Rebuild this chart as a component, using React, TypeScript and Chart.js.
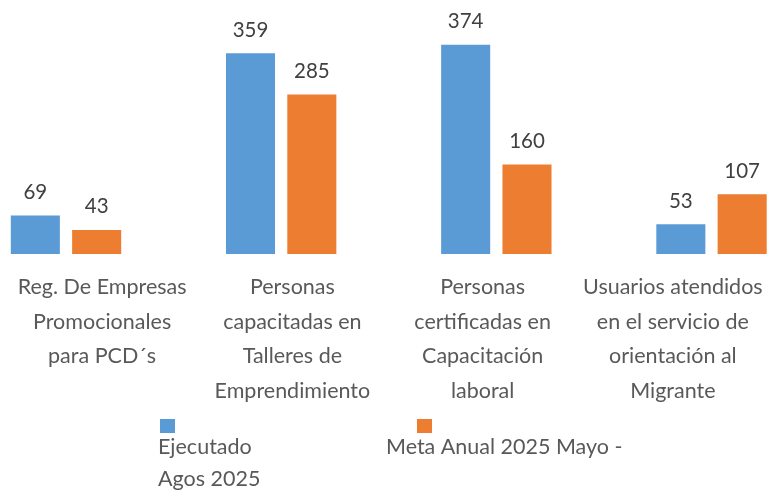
import React, { useEffect, useRef } from "react";
import { Chart, registerables } from "chart.js";

Chart.register(...registerables);

// ---- data ----
const categories: string[][] = [
  ["Reg. De Empresas", "Promocionales", "para PCD´s"],
  ["Personas", "capacitadas en", "Talleres de", "Emprendimiento"],
  ["Personas", "certificadas en", "Capacitación", "laboral"],
  ["Usuarios atendidos", "en el servicio de", "orientación al", "Migrante"],
];
const ejecutado = [69, 359, 374, 53];
const metaAnual = [43, 285, 160, 107];
const seriesLabels: string[][] = [["Ejecutado", "Agos 2025"], ["Meta Anual 2025 Mayo -"]];
const seriesColors = ["#5B9BD5", "#ED7D31"];

const FONT = 'Lato, Carlito, Calibri, "Noto Sans", sans-serif';

const labelsPlugin = {
  id: "valueLabels",
  afterDatasetsDraw(chart: any) {
    const ctx = chart.ctx;
    ctx.save();
    ctx.font = `20.5px ${FONT}`;
    ctx.fillStyle = "#404040";
    ctx.textAlign = "center";
    ctx.textBaseline = "alphabetic";
    chart.data.datasets.forEach((ds: any, di: number) => {
      const meta = chart.getDatasetMeta(di);
      meta.data.forEach((bar: any, i: number) => {
        ctx.fillText(String(ds.data[i].y), bar.x, bar.y - 16.5);
      });
    });
    ctx.restore();
  },
};

const legendPlugin = {
  id: "customLegend",
  afterDraw(chart: any) {
    const ctx = chart.ctx;
    ctx.save();
    const boxes = [
      { bx: 160, tx: 158 },
      { bx: 417, tx: 386 },
    ];
    ctx.font = `21.5px ${FONT}`;
    ctx.textAlign = "left";
    ctx.textBaseline = "alphabetic";
    seriesLabels.forEach((lines, i) => {
      ctx.fillStyle = seriesColors[i];
      ctx.fillRect(boxes[i].bx, 419, 15, 14);
      ctx.fillStyle = "#595959";
      lines.forEach((ln, j) => {
        ctx.fillText(ln, boxes[i].tx, 454 + j * 32);
      });
    });
    ctx.restore();
  },
};

export default function App() {
  const ref = useRef<HTMLCanvasElement | null>(null);
  useEffect(() => {
    document.body.style.margin = "0";
    if (!ref.current) return;
    const mk = (vals: number[]) => vals.map((v, i) => ({ x: i, y: v }));
    const chart = new Chart(ref.current, {
      type: "bar",
      data: {
        datasets: [
          {
            label: seriesLabels[0].join(" "),
            data: mk(ejecutado) as any,
            backgroundColor: seriesColors[0],
            categoryPercentage: 0.57,
            barPercentage: 0.8,
          },
          {
            label: seriesLabels[1].join(" "),
            data: mk(metaAnual) as any,
            backgroundColor: seriesColors[1],
            categoryPercentage: 0.57,
            barPercentage: 0.8,
          },
        ],
      },
      options: {
        animation: false,
        responsive: false,
        layout: { padding: { left: 7, right: 3, top: 0, bottom: 0 } },
        plugins: { legend: { display: false }, tooltip: { enabled: false } },
        scales: {
          x: {
            type: "linear",
            display: false,
            min: -0.2742,
            max: 3.2626,
            offset: false,
            afterBuildTicks(scale: any) {
              scale.ticks = categories.map((_, i) => ({ value: i }));
            },
          },
          xl: {
            type: "category",
            labels: categories as any,
            position: "bottom",
            offset: true,
            grid: { display: false, drawTicks: false },
            border: { display: false },
            ticks: {
              autoSkip: false,
              maxRotation: 0,
              minRotation: 0,
              padding: 16,
              color: "#595959",
              font: { family: FONT, size: 21.5, lineHeight: 34.5 / 21.5 },
            },
            afterFit(scale: any) {
              scale.height = 237;
              scale.paddingLeft = 0;
              scale.paddingRight = 0;
            },
          },
          y: {
            display: false,
            min: 0,
            max: 454,
          },
        },
      },
      plugins: [labelsPlugin, legendPlugin],
    });
    return () => chart.destroy();
  }, []);
  return (
    <div style={{ position: "absolute", left: 0, top: 0, width: 771, height: 491 }}>
      <canvas ref={ref} width={771} height={491} style={{ width: 771, height: 491 }} />
    </div>
  );
}
